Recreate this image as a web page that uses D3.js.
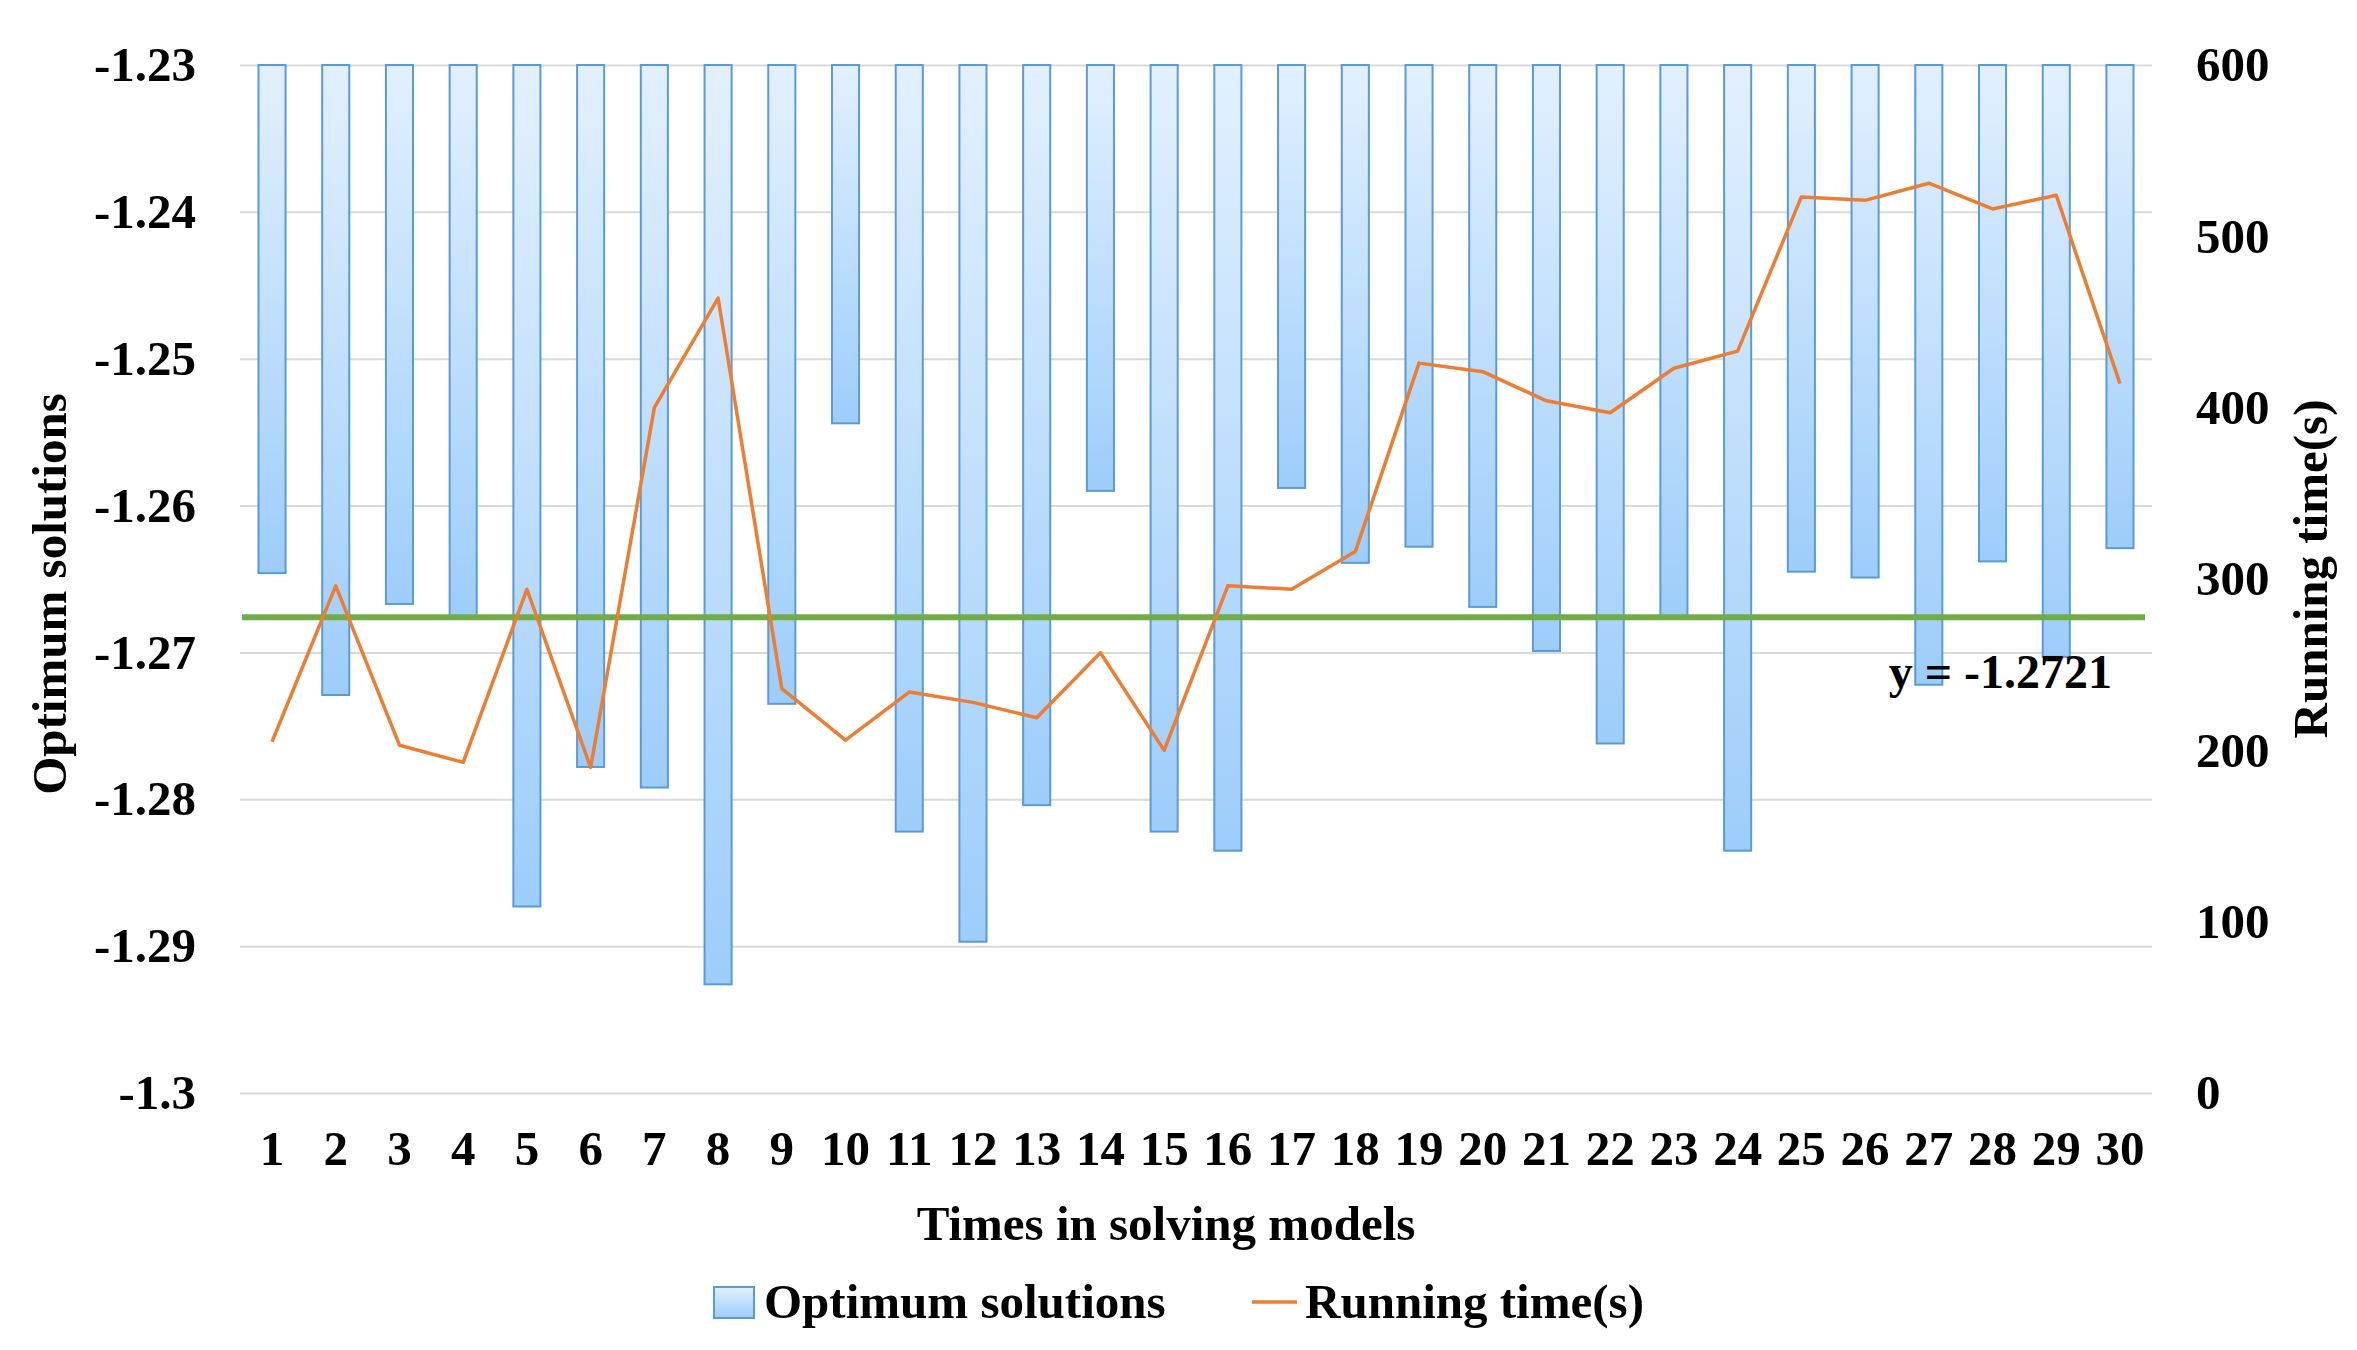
<!DOCTYPE html>
<html>
<head>
<meta charset="utf-8">
<script src="https://cdn.jsdelivr.net/npm/d3@7"></script>
<style>
  body { margin: 0; background: #fff; }
  text { font-family: "Liberation Serif", "Times New Roman", serif; font-weight: bold; fill: #000; }
</style>
</head>
<body>
<script>
// data
const runs = d3.range(1, 31);
const optimum = [
  -1.2646, -1.2729, -1.2667, -1.2676, -1.2873, -1.2778, -1.2792, -1.2926, -1.2735, -1.2544,
  -1.2822, -1.2897, -1.2804, -1.2590, -1.2822, -1.2835, -1.2588, -1.2639, -1.2628, -1.2669,
  -1.2699, -1.2762, -1.2677, -1.2835, -1.2645, -1.2649, -1.2722, -1.2638, -1.2703, -1.2629
];
const runningTime = [
  205, 296, 203, 193, 294, 190, 400, 464, 236, 206,
  234, 228, 219, 257, 200, 296, 294, 316, 426, 421,
  404, 397, 423, 433, 523, 521, 531, 516, 524, 414
];
const leftTicks = [-1.23, -1.24, -1.25, -1.26, -1.27, -1.28, -1.29, -1.3];
const leftTickLabels = ["-1.23", "-1.24", "-1.25", "-1.26", "-1.27", "-1.28", "-1.29", "-1.3"];
const rightTicks = [0, 100, 200, 300, 400, 500, 600];
const refLineValue = -1.2676;   // where the green line is drawn
const refLineLabel = "y = -1.2721";

const width = 2357;
const height = 1350;
const margin = { top: 65, right: 205, bottom: 257, left: 240 };

const svg = d3.select("body").append("svg")
  .attr("width", width)
  .attr("height", height);

const x = d3.scaleBand()
  .domain(runs)
  .range([margin.left, width - margin.right])
  .paddingInner(0.575)
  .paddingOuter(0.29);

const yLeft = d3.scaleLinear()
  .domain([-1.3, -1.23])
  .range([height - margin.bottom, margin.top]);

const yRight = d3.scaleLinear()
  .domain([0, 600])
  .range([height - margin.bottom, margin.top]);

// gradient for the bars
const defs = svg.append("defs");
const grad = defs.append("linearGradient")
  .attr("id", "barGrad")
  .attr("x1", 0).attr("y1", 0).attr("x2", 0).attr("y2", 1);
grad.append("stop").attr("offset", "0%").attr("stop-color", "#e2f0fe");
grad.append("stop").attr("offset", "100%").attr("stop-color", "#9dcdfa");

// gridlines
svg.append("g")
  .attr("transform", `translate(${margin.left},0)`)
  .call(d3.axisLeft(yLeft).tickValues(leftTicks).tickSize(-(width - margin.left - margin.right)).tickFormat(""))
  .call(g => g.select(".domain").remove())
  .call(g => g.selectAll("line").attr("stroke", "#d9d9d9").attr("stroke-width", 2));

// bars hanging from the top of the axis
svg.append("g")
  .selectAll("rect")
  .data(optimum)
  .enter()
  .append("rect")
  .attr("x", (d, i) => x(runs[i]))
  .attr("y", yLeft(-1.23))
  .attr("width", x.bandwidth())
  .attr("height", d => yLeft(d) - yLeft(-1.23))
  .attr("fill", "url(#barGrad)")
  .attr("stroke", "#5b9bd5")
  .attr("stroke-width", 2);

// reference line
svg.append("line")
  .attr("x1", margin.left + 2)
  .attr("x2", width - margin.right - 7)
  .attr("y1", yLeft(refLineValue))
  .attr("y2", yLeft(refLineValue))
  .attr("stroke", "#70ad47")
  .attr("stroke-width", 6);

svg.append("text")
  .attr("x", 2112)
  .attr("y", 688)
  .attr("text-anchor", "end")
  .attr("font-size", "48px")
  .text(refLineLabel);

// running time line
const line = d3.line()
  .x((d, i) => x(runs[i]) + x.bandwidth() / 2)
  .y(d => yRight(d));

svg.append("path")
  .datum(runningTime)
  .attr("fill", "none")
  .attr("stroke", "#ed7d31")
  .attr("stroke-width", 3.5)
  .attr("stroke-linejoin", "round")
  .attr("d", line);

// left axis labels
svg.append("g")
  .attr("transform", `translate(${margin.left - 44},0)`)
  .call(d3.axisLeft(yLeft).tickValues(leftTicks).tickSize(0).tickPadding(0)
    .tickFormat((d, i) => leftTickLabels[i]))
  .call(g => g.select(".domain").remove())
  .call(g => g.selectAll("text").attr("font-size", "49px").attr("font-family", null).attr("dy", "0.32em"));

// right axis labels
svg.append("g")
  .attr("transform", `translate(${width - margin.right + 44},0)`)
  .call(d3.axisRight(yRight).tickValues(rightTicks).tickSize(0).tickPadding(0))
  .call(g => g.select(".domain").remove())
  .call(g => g.selectAll("text").attr("font-size", "49px").attr("font-family", null).attr("dy", "0.32em"));

// x axis labels
svg.append("g")
  .attr("transform", `translate(0,${height - margin.bottom + 38})`)
  .call(d3.axisBottom(x).tickSize(0).tickPadding(0))
  .call(g => g.select(".domain").remove())
  .call(g => g.selectAll("text").attr("font-size", "49px").attr("font-family", null).attr("dy", "0.7em"));

// axis titles
svg.append("text")
  .attr("x", (margin.left + width - margin.right) / 2 - 30)
  .attr("y", 1240)
  .attr("text-anchor", "middle")
  .attr("font-size", "49px")
  .text("Times in solving models");

svg.append("text")
  .attr("transform", "translate(66,594) rotate(-90)")
  .attr("text-anchor", "middle")
  .attr("font-size", "49px")
  .text("Optimum solutions");

svg.append("text")
  .attr("transform", "translate(2327,569) rotate(-90)")
  .attr("text-anchor", "middle")
  .attr("font-size", "49px")
  .text("Running time(s)");

// legend
const legend = svg.append("g");
legend.append("rect")
  .attr("x", 714).attr("y", 1287)
  .attr("width", 40).attr("height", 31)
  .attr("fill", "url(#barGrad)")
  .attr("stroke", "#5b9bd5")
  .attr("stroke-width", 2);
legend.append("text")
  .attr("x", 764).attr("y", 1318)
  .attr("font-size", "49px")
  .text("Optimum solutions");
legend.append("line")
  .attr("x1", 1252).attr("x2", 1297)
  .attr("y1", 1302).attr("y2", 1302)
  .attr("stroke", "#ed7d31")
  .attr("stroke-width", 3.5);
legend.append("text")
  .attr("x", 1305).attr("y", 1318)
  .attr("font-size", "49px")
  .text("Running time(s)");
</script>
</body>
</html>
